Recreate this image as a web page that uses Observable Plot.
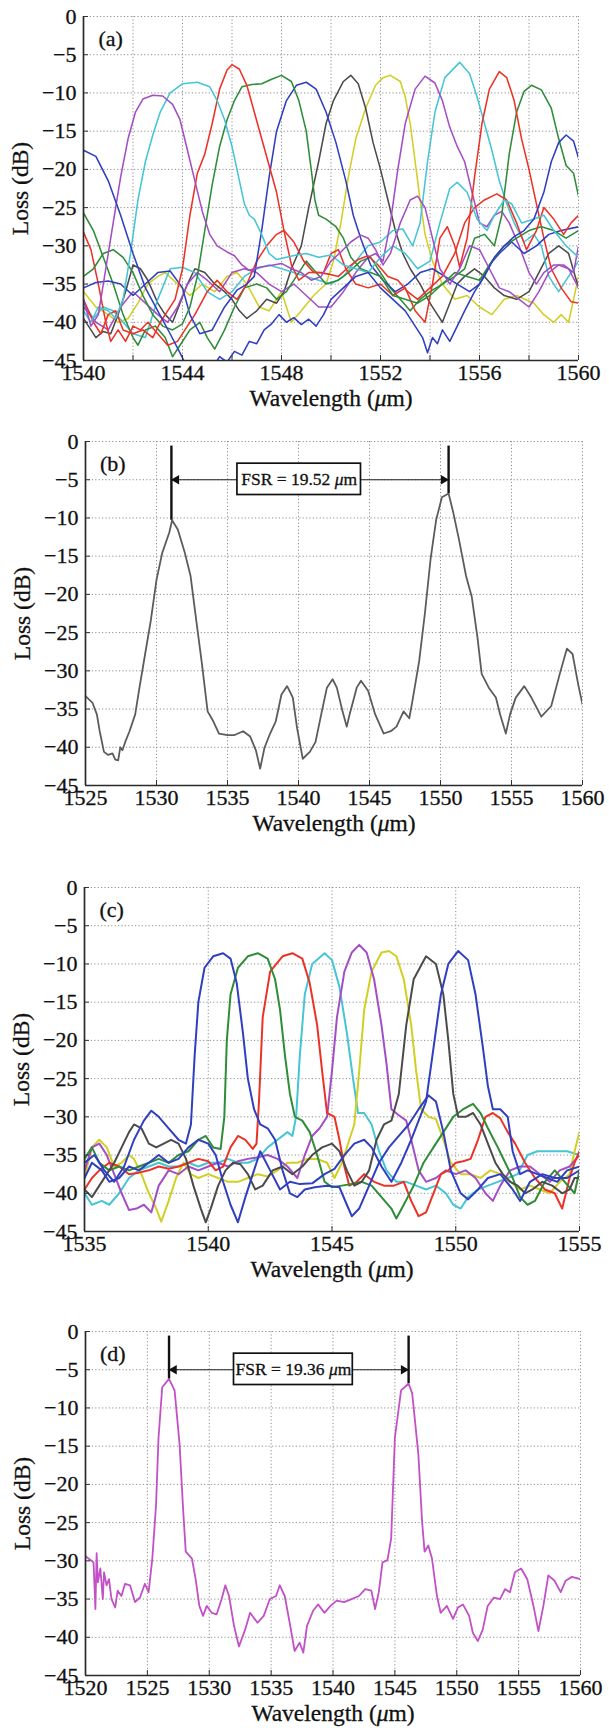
<!DOCTYPE html>
<html>
<head>
<meta charset="utf-8">
<script src="https://cdn.jsdelivr.net/npm/d3@7"></script>
<script src="https://cdn.jsdelivr.net/npm/@observablehq/plot@0.6"></script>
<style>
  html, body { margin: 0; padding: 0; background: #fff; }
  #root svg { display: block; }
  #root svg text { stroke: #111; stroke-width: 0.3px; }
</style>
</head>
<body>
<div id="root"></div>
<script>
// ---------------- Panel (a) ----------------
const a_xTicks = [1540, 1544, 1548, 1552, 1556, 1560];
const a_xGrid = [1542, 1544, 1546, 1548, 1550, 1552, 1554, 1556, 1558, 1560];
const a_blue1 = [[1540,-17.5],[1540.5,-18.3],[1541,-21.5],[1541.5,-26],[1542,-31],[1542.5,-35.5],[1543,-38.5],[1543.5,-41.5],[1543.9,-44],[1544.2,-46],[1545.2,-46],[1545.5,-44.5],[1545.8,-45.2],[1546.1,-43.8],[1546.4,-44.3],[1546.7,-42.5],[1547,-42.8],[1547.3,-41],[1547.6,-40.2],[1547.9,-39],[1548.2,-40],[1548.5,-39.4],[1548.8,-40.3],[1549.1,-39.6],[1549.4,-40.5],[1549.7,-39],[1550,-37],[1550.5,-35.5],[1551,-34],[1551.5,-33.5],[1552,-35.5],[1552.5,-37],[1553,-38.5],[1553.4,-40.5],[1553.7,-42],[1553.9,-44],[1554.1,-42],[1554.3,-42.8],[1554.5,-41],[1554.8,-42.5],[1555.1,-40.5],[1555.4,-38.5],[1555.8,-36],[1556.2,-34],[1556.6,-31.5],[1557,-30],[1557.4,-28.8],[1557.8,-28],[1558.2,-26.5],[1558.6,-23],[1558.9,-19],[1559.2,-16.5],[1559.5,-15.5],[1559.8,-16.3],[1560,-18.5]];
const a_magenta1 = [[1540,-37],[1540.3,-40.5],[1540.6,-39],[1540.9,-33],[1541.2,-27],[1541.5,-21],[1541.8,-16],[1542.1,-12.5],[1542.4,-10.8],[1542.8,-10.3],[1543.2,-10.4],[1543.6,-11.5],[1543.9,-13.5],[1544.2,-17.5],[1544.5,-21.5],[1544.8,-25.5],[1545.1,-28.5],[1545.4,-30],[1545.8,-30.8],[1546.1,-31.3],[1546.4,-32.5],[1546.7,-33.2],[1547.1,-32.8],[1547.5,-32.6],[1548,-32.3],[1548.4,-33],[1548.8,-33.5],[1549.2,-34.5],[1549.6,-34],[1550,-32],[1550.4,-30.8],[1550.8,-29.5],[1551.2,-28.6],[1551.5,-29],[1551.8,-30.5],[1552.1,-32.5],[1552.4,-31],[1552.8,-27],[1553.2,-24],[1553.5,-23.5],[1553.8,-25],[1554.1,-29],[1554.4,-33],[1554.8,-35],[1555.2,-33],[1555.6,-30],[1556,-30.5],[1556.4,-33],[1556.8,-35.5],[1557.2,-36],[1557.6,-37],[1558,-38],[1558.4,-36],[1558.8,-33.5],[1559.2,-32.5],[1559.6,-33],[1560,-35.5]];
const a_cyan1 = [[1540,-38.5],[1540.3,-40],[1540.6,-38],[1541,-38.5],[1541.3,-39.5],[1541.6,-37],[1541.9,-31],[1542.2,-24],[1542.5,-19],[1542.8,-15.5],[1543.1,-12.5],[1543.5,-10],[1544,-8.8],[1544.6,-8.6],[1545.1,-9.2],[1545.4,-11],[1545.7,-13.5],[1546,-17],[1546.3,-21.5],[1546.5,-24.5],[1546.7,-26],[1546.9,-26.5],[1547.2,-28.5],[1547.5,-31],[1547.8,-31.8],[1548.2,-31.5],[1548.6,-31.2],[1549,-31],[1549.5,-31.5],[1550,-31.2],[1550.5,-32.5],[1551,-33],[1551.5,-33.5],[1552,-31.5],[1552.5,-30],[1553,-31],[1553.5,-33],[1554,-32],[1554.4,-27],[1554.8,-22.5],[1555.1,-21.7],[1555.5,-23],[1555.9,-26.5],[1556.3,-28],[1556.6,-26],[1557,-24],[1557.3,-24.5],[1557.7,-27],[1558.2,-26.5],[1558.6,-26],[1559,-28],[1559.5,-30],[1560,-31.5]];
const a_red1 = [[1540,-37],[1540.4,-40],[1540.7,-41.5],[1541,-39],[1541.3,-38.5],[1541.6,-41],[1542,-41.5],[1542.4,-41],[1542.8,-42],[1543.1,-40],[1543.4,-38.5],[1543.7,-37],[1544,-33],[1544.3,-26],[1544.6,-20.5],[1544.9,-18],[1545.2,-14],[1545.5,-9.5],[1545.8,-7],[1546,-6.3],[1546.3,-6.9],[1546.6,-9],[1546.9,-12.5],[1547.2,-16],[1547.5,-19.5],[1547.8,-23],[1548.1,-28],[1548.4,-32.5],[1548.7,-34.5],[1549.1,-33.5],[1549.5,-33.5],[1549.9,-33.7],[1550.3,-34],[1550.7,-32.8],[1551.1,-31.8],[1551.5,-31.3],[1551.9,-32.5],[1552.3,-34],[1552.7,-34.5],[1553.1,-36],[1553.5,-37],[1554,-35.5],[1554.5,-34],[1555,-31],[1555.4,-27],[1555.8,-25],[1556.2,-24],[1556.7,-23.2],[1557.1,-24],[1557.5,-27],[1557.9,-30.5],[1558.3,-28],[1558.6,-25],[1559,-26.5],[1559.4,-28.5],[1559.7,-27],[1560,-26]];
const a_green1 = [[1540,-34],[1540.4,-33],[1540.8,-31],[1541.2,-30.5],[1541.6,-31.5],[1542,-33.5],[1542.4,-36.5],[1542.8,-39],[1543.2,-40.5],[1543.6,-41],[1544,-40.2],[1544.3,-38],[1544.6,-34],[1544.9,-28],[1545.2,-22],[1545.5,-17],[1545.8,-13.5],[1546.1,-11],[1546.4,-9.2],[1546.8,-8.9],[1547.2,-8.8],[1547.6,-8.2],[1548,-7.7],[1548.4,-8.5],[1548.7,-11],[1549,-15],[1549.2,-20],[1549.35,-24],[1549.5,-26],[1549.8,-26.5],[1550.2,-27.5],[1550.5,-29],[1550.8,-31.5],[1551.2,-33],[1551.6,-33.5],[1552,-34],[1552.5,-36.5],[1553,-37],[1553.5,-37.5],[1554,-36.5],[1554.5,-35],[1555,-33.5],[1555.5,-34],[1556,-34.5],[1556.5,-32],[1557,-30],[1557.5,-29],[1558,-28],[1558.5,-27.5],[1559,-28],[1559.5,-29],[1560,-28]];
const a_blue2 = [[1540,-35.5],[1540.5,-34.8],[1541,-34.6],[1541.5,-35],[1542,-36.5],[1542.5,-35],[1543,-33.5],[1543.5,-33.3],[1544,-35.5],[1544.3,-39],[1544.7,-41.5],[1545.2,-41],[1545.7,-38],[1546.2,-35.8],[1546.6,-35],[1546.9,-34],[1547.2,-28],[1547.5,-21],[1547.8,-15],[1548.2,-11],[1548.6,-9],[1549,-8.6],[1549.4,-9.5],[1549.8,-12.5],[1550.2,-16.5],[1550.6,-21.5],[1550.9,-26],[1551.2,-29],[1551.6,-32.5],[1552.1,-34.5],[1552.6,-36],[1553.1,-35],[1553.6,-33.5],[1554.1,-33],[1554.6,-34],[1555.1,-35],[1555.6,-36],[1556,-35],[1556.4,-32.5],[1556.8,-31],[1557.3,-29.5],[1557.8,-31],[1558.3,-30],[1558.8,-28.5],[1559.3,-28],[1560,-27.5]];
const a_gray = [[1540,-39.5],[1540.3,-41],[1540.5,-42],[1540.8,-41.2],[1541.1,-41.5],[1541.4,-39],[1541.7,-36],[1542,-32.5],[1542.3,-33],[1542.6,-34.5],[1543,-37.5],[1543.3,-39],[1543.6,-40],[1543.9,-37.5],[1544.2,-35],[1544.5,-33],[1544.9,-33.5],[1545.3,-35],[1545.7,-36],[1546,-37],[1546.3,-38.5],[1546.6,-39.5],[1547,-38.5],[1547.4,-37],[1547.8,-37.5],[1548.1,-36],[1548.4,-33],[1548.8,-30],[1549.1,-25],[1549.5,-19],[1549.8,-14],[1550.1,-11],[1550.5,-8.5],[1550.8,-7.7],[1551.1,-8.8],[1551.4,-12],[1551.7,-16.5],[1552,-20],[1552.3,-24],[1552.6,-28],[1552.9,-31],[1553.2,-33],[1553.6,-35],[1554,-37.5],[1554.3,-39],[1554.5,-40],[1554.8,-37.5],[1555.1,-35],[1555.4,-34],[1555.8,-33],[1556.2,-34],[1556.6,-35.5],[1557,-36.5],[1557.5,-37],[1558,-36],[1558.4,-33.5],[1558.8,-31],[1559.2,-30],[1559.6,-31],[1560,-35.5]];
const a_yellow = [[1540,-36],[1540.5,-38],[1541,-39],[1541.4,-40],[1541.8,-39.5],[1542.2,-37.5],[1542.6,-35],[1543,-34],[1543.3,-33.5],[1543.8,-35],[1544.3,-36.5],[1544.8,-35],[1545.3,-36],[1545.8,-34],[1546.2,-33.5],[1546.6,-35],[1547.1,-38],[1547.5,-38.5],[1548,-36],[1548.4,-40],[1548.8,-38.5],[1549.3,-36.5],[1549.8,-35],[1550.1,-32],[1550.4,-27],[1550.7,-21],[1551,-16],[1551.4,-12],[1551.8,-9],[1552.1,-8],[1552.4,-7.7],[1552.8,-8.5],[1553,-10.5],[1553.2,-14],[1553.4,-19],[1553.6,-24],[1553.8,-28.5],[1554.1,-32],[1554.5,-35],[1555,-37],[1555.5,-36.5],[1556,-38],[1556.5,-39],[1557,-37],[1557.5,-36.5],[1558.2,-37.5],[1558.6,-39],[1559,-40],[1559.3,-39],[1559.6,-40],[1559.8,-37],[1560,-34]];
const a_magenta2 = [[1540,-38],[1540.5,-40],[1541,-41],[1541.5,-38],[1542,-36],[1542.5,-37.5],[1543,-39],[1543.4,-40],[1543.8,-38],[1544.2,-35],[1544.6,-33.5],[1545,-34.5],[1545.5,-36],[1546,-33.5],[1546.5,-33],[1547,-33.5],[1547.5,-35],[1548,-36],[1548.5,-35],[1549,-36.5],[1549.5,-38],[1550,-38],[1550.5,-36],[1551,-33.5],[1551.5,-31.5],[1551.8,-31],[1552.1,-32],[1552.4,-27],[1552.7,-20],[1553,-14],[1553.4,-9.5],[1553.8,-7.8],[1554.2,-8.7],[1554.5,-11],[1554.8,-14.5],[1555.1,-17],[1555.4,-19],[1555.7,-23],[1556,-27],[1556.3,-27.5],[1556.6,-26],[1556.9,-25.5],[1557.2,-27],[1557.6,-30],[1558,-33.5],[1558.3,-35],[1558.6,-33.5],[1559,-32.5],[1559.4,-32.5],[1559.8,-33.5],[1560,-30]];
const a_cyan2 = [[1540,-37.5],[1540.4,-39.5],[1540.8,-38],[1541.2,-38.5],[1541.6,-40],[1542,-41.5],[1542.5,-42],[1543,-37],[1543.5,-33],[1544,-32.8],[1544.5,-33.5],[1545,-36],[1545.5,-37],[1546,-36],[1546.5,-34],[1547,-33],[1547.5,-32.5],[1548,-33],[1548.5,-33.5],[1549,-34],[1549.5,-34.5],[1550,-35],[1550.5,-34],[1551,-32],[1551.5,-30],[1552,-29.5],[1552.5,-28],[1552.9,-27.8],[1553.3,-30],[1553.6,-27],[1553.9,-19],[1554.2,-12.5],[1554.6,-8],[1555.2,-6],[1555.6,-7.5],[1555.9,-10.5],[1556.2,-14],[1556.5,-17.5],[1556.8,-21.5],[1557.1,-24.5],[1557.4,-27],[1557.8,-29.5],[1558.2,-28.5],[1558.5,-30],[1558.8,-34],[1559.2,-36],[1559.6,-34],[1560,-32]];
const a_red2 = [[1540,-28.2],[1540.3,-30.5],[1540.6,-35],[1540.9,-40],[1541.1,-42.5],[1541.4,-41],[1541.7,-42.5],[1542,-40.5],[1542.3,-41],[1542.6,-40],[1543,-41.5],[1543.4,-43],[1543.8,-42.5],[1544.1,-41],[1544.5,-39],[1545,-36],[1545.4,-34.5],[1545.8,-36],[1546.2,-37],[1546.6,-35],[1547,-32],[1547.4,-30],[1547.8,-28.5],[1548.1,-28],[1548.5,-29.5],[1548.9,-32],[1549.3,-33.5],[1549.7,-33.5],[1550,-31],[1550.3,-30.5],[1550.6,-33],[1551,-35],[1551.5,-35.5],[1552,-35],[1552.5,-36.5],[1553,-35.5],[1553.4,-38.5],[1553.8,-40],[1554.1,-35],[1554.4,-29],[1554.7,-27.5],[1555,-30],[1555.2,-32.8],[1555.5,-29],[1555.8,-21],[1556.1,-14],[1556.4,-9.5],[1556.8,-7.2],[1557.1,-8],[1557.4,-11],[1557.7,-16],[1558,-20],[1558.3,-24.5],[1558.6,-29],[1558.9,-33],[1559.3,-35.5],[1559.7,-37.3],[1560,-37.5]];
const a_green2 = [[1540,-25.7],[1540.4,-28],[1540.8,-31.5],[1541.2,-35],[1541.6,-39],[1542,-42],[1542.2,-43],[1542.5,-41],[1542.9,-40.5],[1543.3,-42],[1543.6,-44.5],[1543.9,-43],[1544.3,-41],[1544.7,-40],[1545,-42],[1545.3,-43.5],[1545.7,-41],[1546.1,-38],[1546.5,-35.5],[1547,-35],[1547.4,-35.5],[1547.8,-37],[1548.2,-36],[1548.6,-34],[1549,-32],[1549.4,-33.5],[1549.8,-35],[1550.3,-34.5],[1550.7,-33.5],[1551.2,-32],[1551.6,-31.5],[1552,-33.5],[1552.4,-35.5],[1552.8,-37],[1553.2,-38.5],[1553.6,-37],[1554,-36],[1554.5,-35],[1555,-34],[1555.4,-33],[1555.8,-29],[1556.2,-28.5],[1556.6,-30],[1556.9,-26],[1557.2,-18],[1557.5,-12.5],[1557.8,-9.8],[1558.1,-9],[1558.5,-9.6],[1558.9,-12],[1559.2,-16],[1559.5,-19.5],[1559.8,-20.5],[1560,-23.5]];

// ---------------- Panel (b) ----------------
const b_xTicks = [1525, 1530, 1535, 1540, 1545, 1550, 1555, 1560];
const b_trace = [[1525,-33.3],[1525.5,-34.2],[1525.8,-35.7],[1526,-37.9],[1526.3,-40.6],[1526.6,-41],[1526.9,-40.8],[1527.1,-41.6],[1527.3,-41.7],[1527.45,-40],[1527.6,-40.4],[1527.8,-39.3],[1528.1,-37.9],[1528.5,-35.7],[1528.8,-32.2],[1529.2,-27.8],[1529.6,-23.4],[1530,-18.1],[1530.4,-14.6],[1530.9,-11.9],[1531.1,-10.3],[1531.5,-11.5],[1532,-14.6],[1532.4,-17.6],[1532.8,-23.4],[1533.2,-29.1],[1533.6,-35.3],[1534,-36.6],[1534.4,-38.2],[1535,-38.4],[1535.5,-38.4],[1536.1,-37.9],[1536.6,-38.6],[1537,-40.4],[1537.3,-42.8],[1537.6,-40.1],[1538,-38.2],[1538.4,-36.6],[1538.8,-33.1],[1539.2,-32],[1539.6,-33.5],[1539.9,-37.5],[1540.3,-41.5],[1540.8,-40.6],[1541.2,-39.3],[1541.6,-35.7],[1542,-32.2],[1542.4,-31.1],[1542.7,-32.2],[1543.1,-35.3],[1543.4,-37.3],[1543.6,-35.7],[1544.1,-32.2],[1544.4,-31.3],[1544.9,-32.6],[1545.4,-35.7],[1546,-38.2],[1546.5,-37.9],[1546.9,-37.3],[1547.4,-35.3],[1547.8,-36.2],[1548,-34.2],[1548.5,-28.7],[1548.9,-22.5],[1549.3,-15.4],[1549.7,-10.2],[1550.1,-7.3],[1550.57,-6.8],[1550.9,-9.3],[1551.3,-12.8],[1551.8,-17.6],[1552.2,-20.3],[1552.6,-25.6],[1552.9,-30.4],[1553.4,-32.2],[1553.9,-33.5],[1554.2,-35.7],[1554.6,-38.2],[1554.9,-35.7],[1555.3,-33.5],[1555.9,-32],[1556.4,-33.5],[1557.1,-36],[1557.8,-34.6],[1558.4,-30.4],[1558.9,-27.1],[1559.3,-27.8],[1559.7,-31.8],[1560,-34.4]];

// ---------------- Panel (c) ----------------
const c_xTicks = [1535, 1540, 1545, 1550, 1555];
const c_blue1 = [[1535,-36],[1535.4,-35],[1535.8,-37],[1536.2,-38.5],[1536.6,-36.5],[1537,-33],[1537.4,-30.5],[1537.7,-29.2],[1538,-30],[1538.4,-31.5],[1538.8,-33],[1539.1,-33.5],[1539.3,-31],[1539.45,-22],[1539.6,-15],[1539.85,-10.5],[1540.2,-9],[1540.6,-8.6],[1540.9,-9.3],[1541.15,-12.5],[1541.4,-19],[1541.6,-25],[1541.85,-29],[1542.1,-31],[1542.4,-31.5],[1542.7,-33],[1543,-37],[1543.3,-40],[1543.6,-40.5],[1543.9,-39.5],[1544.3,-39.2],[1544.8,-39],[1545.3,-39.2],[1545.6,-41.5],[1545.8,-43],[1546.1,-42],[1546.5,-39],[1546.9,-36],[1547.3,-34],[1547.7,-32.5],[1548.1,-31],[1548.5,-29],[1548.9,-27.2],[1549.2,-28],[1549.5,-32],[1549.8,-37],[1550.2,-40],[1550.5,-40.8],[1550.9,-39.5],[1551.3,-38],[1551.8,-37.5],[1552.3,-39.5],[1552.6,-41],[1553,-38.5],[1553.5,-37.5],[1554,-38],[1554.5,-38],[1555,-37]];
const c_green = [[1535,-35.5],[1535.3,-34],[1535.6,-36],[1536,-37],[1536.4,-36.5],[1536.8,-37],[1537.2,-36.5],[1537.6,-36],[1538,-35.5],[1538.4,-36],[1538.8,-35],[1539.2,-34.5],[1539.6,-33],[1539.9,-32.5],[1540.2,-34],[1540.5,-34.2],[1540.65,-30],[1540.75,-20],[1540.9,-14],[1541.2,-10.5],[1541.6,-9],[1542,-8.6],[1542.4,-9.3],[1542.7,-12],[1542.9,-16],[1543.1,-22],[1543.3,-27],[1543.5,-30],[1543.8,-30.5],[1544.1,-32],[1544.4,-35],[1544.7,-38.5],[1545,-39.2],[1545.4,-39],[1545.8,-38.8],[1546.2,-38.5],[1546.6,-39],[1547,-40.5],[1547.4,-42],[1547.6,-43.3],[1547.9,-41.5],[1548.3,-39],[1548.7,-36],[1549.1,-34],[1549.5,-32],[1549.9,-30],[1550.3,-29],[1550.7,-28.3],[1551,-29.5],[1551.3,-31.5],[1551.7,-34],[1552,-36],[1552.3,-38],[1552.6,-40.5],[1552.9,-41.5],[1553.2,-41],[1553.6,-38.5],[1554,-37],[1554.4,-38.5],[1554.8,-40],[1555,-37]];
const c_red = [[1535,-39.5],[1535.3,-38],[1535.6,-37],[1536,-36],[1536.4,-36.5],[1536.8,-37.5],[1537.2,-37.3],[1537.6,-37],[1538,-36.5],[1538.4,-36.8],[1538.8,-36.5],[1539.2,-36],[1539.6,-35.5],[1540,-35.8],[1540.3,-37],[1540.6,-36.5],[1540.9,-34],[1541.2,-32.5],[1541.5,-33],[1541.8,-34.2],[1541.95,-33.5],[1542.05,-28],[1542.2,-17],[1542.5,-11],[1543,-9],[1543.4,-8.6],[1543.8,-9.3],[1544.1,-12.5],[1544.4,-18],[1544.6,-24],[1544.8,-29.5],[1545.1,-30],[1545.3,-33],[1545.5,-36.5],[1545.7,-39],[1546,-38.5],[1546.3,-37.5],[1546.7,-38.5],[1547.1,-39],[1547.5,-39],[1547.9,-38.5],[1548.2,-41],[1548.5,-43],[1548.8,-42.5],[1549.1,-40],[1549.4,-37.5],[1549.7,-37],[1550,-36],[1550.3,-35.8],[1550.6,-35.5],[1550.9,-33],[1551.2,-30],[1551.5,-29.5],[1551.8,-30.2],[1552.1,-32],[1552.4,-33.5],[1552.8,-36],[1553.2,-38],[1553.6,-39.5],[1554,-40],[1554.3,-42],[1554.6,-38],[1554.8,-36],[1555,-34.5]];
const c_cyan = [[1535,-40],[1535.3,-41.5],[1535.7,-41],[1536,-41.5],[1536.4,-40],[1536.8,-38],[1537.2,-37],[1537.6,-36.5],[1538,-36],[1538.4,-36.5],[1538.8,-36.5],[1539.2,-36],[1539.6,-36.5],[1540,-36],[1540.4,-36],[1540.8,-35.5],[1541.2,-36],[1541.6,-36],[1542,-35.5],[1542.4,-34],[1542.8,-33],[1543.2,-32],[1543.4,-32.5],[1543.55,-30],[1543.7,-22],[1543.9,-14],[1544.2,-10],[1544.7,-8.6],[1545,-9.5],[1545.3,-13],[1545.6,-19],[1545.85,-25],[1546.05,-29.5],[1546.3,-29.5],[1546.6,-31],[1546.9,-34.5],[1547.2,-37],[1547.6,-38.5],[1548,-38.5],[1548.4,-39],[1548.8,-39.5],[1549.2,-39],[1549.6,-40],[1549.9,-41.5],[1550.2,-42],[1550.5,-40.5],[1550.9,-39.5],[1551.3,-39],[1551.7,-38.5],[1552.1,-38],[1552.5,-37.5],[1552.9,-35],[1553.3,-34.5],[1553.7,-34.5],[1554.1,-34.5],[1554.5,-34.5],[1555,-35]];
const c_magenta = [[1535,-37],[1535.3,-34],[1535.6,-33.5],[1535.9,-35],[1536.2,-37.5],[1536.5,-40],[1536.8,-42.2],[1537.1,-42],[1537.4,-41.5],[1537.7,-42.5],[1538,-39],[1538.4,-37],[1538.8,-37.5],[1539.2,-36.5],[1539.6,-37],[1540,-36.5],[1540.4,-36],[1540.8,-36.5],[1541.2,-35.8],[1541.6,-35.5],[1542,-35.3],[1542.4,-35],[1542.8,-35.5],[1543.2,-36.5],[1543.6,-38],[1543.9,-35],[1544.2,-32.5],[1544.5,-31.5],[1544.8,-30],[1545,-24],[1545.2,-17],[1545.5,-11],[1545.8,-8.5],[1546.1,-7.5],[1546.4,-8.5],[1546.7,-12],[1547,-18],[1547.2,-23],[1547.4,-29],[1547.7,-29.8],[1548,-30.5],[1548.2,-33],[1548.5,-37],[1548.8,-38.5],[1549.2,-38],[1549.6,-37],[1550,-37.5],[1550.4,-37],[1550.8,-38],[1551.2,-40],[1551.5,-41],[1551.8,-39],[1552.2,-37],[1552.6,-36.5],[1553,-36.5],[1553.4,-37.5],[1553.8,-38.5],[1554.2,-37],[1554.6,-36.5],[1555,-35]];
const c_yellow = [[1535,-38],[1535.3,-34],[1535.6,-33],[1535.9,-34],[1536.2,-36.5],[1536.5,-36],[1536.8,-35],[1537,-35.5],[1537.3,-37.5],[1537.6,-40],[1537.9,-42],[1538.1,-43.7],[1538.4,-41],[1538.7,-38],[1539,-36],[1539.3,-37.5],[1539.6,-38],[1540,-37.5],[1540.4,-38],[1540.8,-38.5],[1541.2,-38.5],[1541.6,-38],[1542,-37.5],[1542.4,-37.8],[1542.8,-37],[1543.2,-36],[1543.6,-36],[1544,-35.5],[1544.4,-35.5],[1544.8,-36],[1545.1,-38],[1545.4,-36],[1545.7,-33],[1545.9,-31],[1546.1,-24],[1546.3,-16],[1546.6,-11],[1547,-8.5],[1547.3,-8.3],[1547.6,-9],[1547.9,-12],[1548.2,-18],[1548.4,-24],[1548.6,-29],[1548.9,-30],[1549.2,-30.3],[1549.5,-33],[1549.8,-36],[1550.2,-37.5],[1550.6,-37.5],[1551,-38],[1551.4,-37],[1551.8,-37.5],[1552.2,-38.5],[1552.6,-39.5],[1553,-39],[1553.4,-39.5],[1553.8,-40],[1554.2,-38.5],[1554.6,-37.5],[1554.8,-34.5],[1555,-32]];
const c_gray = [[1535,-39.5],[1535.3,-40.5],[1535.6,-39],[1535.9,-37.5],[1536.2,-36],[1536.5,-34],[1536.8,-32],[1537,-31],[1537.3,-31.5],[1537.6,-33.5],[1537.9,-34],[1538.2,-33.5],[1538.5,-33],[1538.8,-33.5],[1539.1,-35.5],[1539.4,-39],[1539.7,-42],[1539.9,-43.8],[1540.1,-42],[1540.4,-39],[1540.7,-37],[1541,-36],[1541.3,-36.2],[1541.6,-37.5],[1541.9,-39.5],[1542.2,-39],[1542.6,-37],[1543,-36.5],[1543.4,-37.5],[1543.8,-36.5],[1544.2,-35],[1544.6,-34],[1545,-33.5],[1545.3,-34.5],[1545.6,-37],[1545.9,-39],[1546.2,-38.5],[1546.5,-37],[1546.8,-33],[1547.1,-31],[1547.4,-30.5],[1547.7,-27],[1548,-18],[1548.3,-12],[1548.8,-9],[1549.2,-10],[1549.5,-14],[1549.7,-20],[1549.9,-27],[1550.1,-30],[1550.4,-30],[1550.7,-29.5],[1551,-31],[1551.3,-33.5],[1551.6,-36],[1551.9,-37.5],[1552.2,-38.5],[1552.5,-39],[1552.8,-40],[1553.1,-39.5],[1553.5,-38.5],[1553.9,-39],[1554.3,-40],[1554.6,-39.5],[1554.8,-38],[1555,-38]];
const c_blue2 = [[1535,-38],[1535.3,-36],[1535.7,-37],[1536,-38.5],[1536.4,-38],[1536.8,-36.5],[1537.2,-37],[1537.6,-36],[1538,-35],[1538.4,-36],[1538.8,-35.5],[1539.2,-34],[1539.6,-33],[1540,-33.5],[1540.3,-35],[1540.6,-38.5],[1540.9,-41.5],[1541.2,-43.8],[1541.5,-40.5],[1541.8,-37.5],[1542.1,-34.5],[1542.5,-37],[1542.9,-39.5],[1543.3,-38.5],[1543.7,-38.8],[1544.2,-38.7],[1544.7,-37.5],[1545.1,-36.8],[1545.5,-35],[1545.9,-33.5],[1546.3,-33],[1546.6,-34],[1547,-36.5],[1547.4,-38.5],[1547.8,-36],[1548.2,-33],[1548.5,-30.5],[1548.8,-28],[1549.1,-21],[1549.4,-14],[1549.7,-10],[1550.1,-8.3],[1550.5,-9.5],[1550.8,-14],[1551.1,-21],[1551.3,-26],[1551.5,-29],[1551.8,-29],[1552.1,-30],[1552.3,-34.5],[1552.6,-37.5],[1552.9,-37],[1553.3,-37.5],[1553.7,-38],[1554.1,-38.5],[1554.5,-37],[1555,-36.5]];

// ---------------- Panel (d) ----------------
const d_xTicks = [1520, 1525, 1530, 1535, 1540, 1545, 1550, 1555, 1560];
const d_trace = [[1520,-29.4],[1520.4,-29.9],[1520.65,-30.2],[1520.8,-36.3],[1520.9,-29],[1521,-32.8],[1521.2,-31],[1521.4,-35],[1521.5,-31.5],[1521.7,-33.2],[1521.9,-32.4],[1522.1,-35],[1522.4,-36.1],[1522.6,-33.9],[1522.9,-34.6],[1523.2,-33],[1523.6,-33.2],[1524,-35.4],[1524.4,-34.8],[1524.8,-33],[1525.1,-34.1],[1525.4,-29.7],[1525.7,-22.7],[1525.9,-13.9],[1526.2,-7.3],[1526.75,-6.2],[1527.2,-7.7],[1527.6,-14.7],[1527.9,-23.6],[1528.1,-28.8],[1528.6,-29.7],[1528.9,-32.4],[1529.2,-35.9],[1529.5,-37.2],[1529.8,-35.9],[1530.2,-36.8],[1530.6,-37],[1531,-35],[1531.3,-33.2],[1531.6,-34.6],[1532,-38.5],[1532.4,-41.2],[1532.9,-39],[1533.3,-36.8],[1533.9,-38.1],[1534.4,-37.2],[1534.9,-35],[1535.4,-34.6],[1535.7,-33.2],[1536.1,-34.6],[1536.5,-38.1],[1536.9,-41.8],[1537.3,-40.7],[1537.6,-42],[1537.9,-38.5],[1538.4,-36.5],[1538.8,-35.7],[1539.3,-36.8],[1539.8,-35.9],[1540.3,-35.2],[1540.9,-35.4],[1541.5,-35],[1542.1,-34.6],[1542.6,-33.7],[1543.1,-33.9],[1543.4,-36.3],[1543.7,-34.1],[1544,-30.2],[1544.4,-29.9],[1544.7,-27.1],[1545,-13.9],[1545.5,-7.7],[1546.11,-6.8],[1546.4,-8.1],[1546.9,-16.1],[1547.2,-24.9],[1547.4,-28.8],[1547.7,-28],[1548,-29.7],[1548.4,-34.6],[1548.7,-36.8],[1549.2,-35.9],[1549.7,-37.6],[1550.1,-36.1],[1550.5,-35.7],[1551,-37.2],[1551.3,-39.4],[1551.7,-40.5],[1552.1,-39],[1552.5,-35.9],[1553,-34.8],[1553.5,-35],[1553.9,-33.7],[1554.3,-34.1],[1554.7,-31.5],[1555.2,-31],[1555.7,-32.4],[1556.2,-35.9],[1556.6,-39.2],[1557,-35.9],[1557.4,-31.9],[1557.9,-32.6],[1558.4,-34.1],[1558.8,-32.6],[1559.3,-32.1],[1560,-32.4]];

// ---------------- shared ----------------
const yTicks = [-45, -40, -35, -30, -25, -20, -15, -10, -5, 0];
const yGrid = [-40, -35, -30, -25, -20, -15, -10, -5, 0];
const COL = {
  blue: "#2f3fc0", green: "#2f8c38", red: "#ec3227", cyan: "#45c5d5",
  magenta: "#a44ec6", yellow: "#d2cf24", gray: "#4b4b4b", pink: "#c250c6", trace: "#5c5c5c"
};
const W = 609, MT = 16, PH = 344;
const FONT = "'Liberation Serif', 'Times New Roman', serif";
const fmtY = d => d < 0 ? "\u2212" + (-d) : String(d);

function italicMu(svg) {
  const ns = "http://www.w3.org/2000/svg";
  svg.querySelectorAll("text, tspan").forEach(t => {
    if (t.children.length === 0 && t.textContent.includes("\u03bc")) {
      const parts = t.textContent.split("\u03bc");
      t.textContent = "";
      parts.forEach((p, i) => {
        if (i > 0) {
          const ts = document.createElementNS(ns, "tspan");
          ts.setAttribute("font-style", "italic");
          ts.textContent = "\u03bc";
          t.appendChild(ts);
        }
        if (p) t.appendChild(document.createTextNode(p));
      });
    }
  });
}

function panel(cfg) {
  const [x0, x1] = cfg.domain;
  const H = cfg.h;
  const plotW = W - cfg.mL - cfg.mR;
  const tx = (x1 - x0) * 5 / plotW, ty = 45 * 5 / PH;
  const gridStyle = {stroke: "#8f8f8f", strokeWidth: 1, strokeDasharray: "1.2,2.2"};
  const marks = [
    Plot.ruleY(yGrid, gridStyle),
    Plot.ruleX(cfg.grid, gridStyle),
    ...cfg.curves.map(c => Plot.line(c.data, {x: d => d[0], y: d => d[1], stroke: c.color, strokeWidth: c.w, clip: true})),
    Plot.ruleX(cfg.grid, {y1: -45, y2: -45 + ty, stroke: "#333", strokeWidth: 1}),
    Plot.ruleY(yGrid, {x1: x0, x2: x0 + tx, stroke: "#333", strokeWidth: 1}),
    Plot.ruleY([-45], {stroke: "#2a2a2a", strokeWidth: 1.7}),
    Plot.ruleX([x0], {stroke: "#2a2a2a", strokeWidth: 1.7}),
    Plot.axisX({ticks: cfg.ticks, tickFormat: d => String(d), tickSize: 0, tickPadding: 4, fontSize: 22,
      label: "Wavelength (\u03bcm)", labelAnchor: "center", labelArrow: "none", labelOffset: 45}),
    Plot.axisY({ticks: yTicks, tickFormat: fmtY, tickSize: 0, tickPadding: 7, fontSize: 22,
      label: "Loss (dB)", labelAnchor: "center", labelArrow: "none", labelOffset: 72}),
    Plot.text([cfg.tag], {x: x0 + (x1 - x0) * 0.055, y: -3, text: d => d, fontSize: 22, fill: "#111"})
  ];
  if (cfg.fsr) {
    const f = cfg.fsr;
    marks.push(
      Plot.ruleX([{x: f.l, y2: f.lp}, {x: f.r, y2: f.rp}], {x: "x", y1: () => -0.6, y2: "y2", stroke: "#111", strokeWidth: 2.4}),
      Plot.ruleY([{a: f.l, b: f.bx1}, {a: f.bx2, b: f.r}], {y: () => -5, x1: "a", x2: "b", stroke: "#222", strokeWidth: 1.1}),
      Plot.dot([{x: f.l}], {x: "x", y: () => -5, symbol: "triangle", r: 3.5, fill: "#111", stroke: "none", rotate: -90, dx: 5}),
      Plot.dot([{x: f.r}], {x: "x", y: () => -5, symbol: "triangle", r: 3.5, fill: "#111", stroke: "none", rotate: 90, dx: -5}),
      Plot.rect([{x1: f.bx1, x2: f.bx2}], {x1: "x1", x2: "x2", y1: () => -2.9, y2: () => -7.0, fill: "white", stroke: "#111", strokeWidth: 1.7}),
      Plot.text([f.text], {x: () => (f.bx1 + f.bx2) / 2, y: () => -4.95, text: d => d, fontSize: 17.5, fill: "#111"})
    );
  }
  const svg = Plot.plot({
    width: W, height: H,
    marginLeft: cfg.mL, marginRight: cfg.mR, marginTop: MT, marginBottom: H - MT - PH,
    x: {domain: cfg.domain},
    y: {domain: [-45, 0]},
    style: {fontFamily: FONT, fontSize: "22px", color: "#111", background: "white", overflow: "visible"},
    marks
  });
  svg.querySelectorAll("g[aria-label='x-axis label'] text, g[aria-label='y-axis label'] text").forEach(t => t.setAttribute("font-size", "23.5"));
  italicMu(svg);
  return svg;
}

const root = document.getElementById("root");
const wa = 1.55;
root.appendChild(panel({
  tag: "(a)", h: 425, domain: [1540, 1560], ticks: a_xTicks, grid: a_xGrid, mL: 83, mR: 31,
  curves: [
    {data: a_yellow, color: COL.yellow, w: wa}, {data: a_gray, color: COL.gray, w: wa},
    {data: a_cyan2, color: COL.cyan, w: wa}, {data: a_magenta2, color: COL.magenta, w: wa},
    {data: a_green2, color: COL.green, w: wa}, {data: a_red2, color: COL.red, w: wa},
    {data: a_blue2, color: COL.blue, w: wa}, {data: a_green1, color: COL.green, w: wa},
    {data: a_red1, color: COL.red, w: wa}, {data: a_cyan1, color: COL.cyan, w: wa},
    {data: a_magenta1, color: COL.magenta, w: wa}, {data: a_blue1, color: COL.blue, w: wa}
  ]
}));
root.appendChild(panel({
  tag: "(b)", h: 446, domain: [1525, 1560], ticks: b_xTicks, grid: b_xTicks.slice(1), mL: 85, mR: 27,
  curves: [{data: b_trace, color: COL.trace, w: 1.8}],
  fsr: {l: 1531.05, lp: -10.3, r: 1550.57, rp: -6.8, bx1: 1535.7, bx2: 1544.4, text: "FSR = 19.52 \u03bcm"}
}));
const wc = 2;
root.appendChild(panel({
  tag: "(c)", h: 444, domain: [1535, 1555], ticks: c_xTicks, grid: c_xTicks.slice(1), mL: 84, mR: 30,
  curves: [
    {data: c_cyan, color: COL.cyan, w: wc}, {data: c_yellow, color: COL.yellow, w: wc},
    {data: c_magenta, color: COL.magenta, w: wc}, {data: c_red, color: COL.red, w: wc},
    {data: c_green, color: COL.green, w: wc}, {data: c_gray, color: COL.gray, w: wc},
    {data: c_blue2, color: COL.blue, w: wc}, {data: c_blue1, color: COL.blue, w: wc}
  ]
}));
root.appendChild(panel({
  tag: "(d)", h: 413, domain: [1520, 1560], ticks: d_xTicks, grid: d_xTicks.slice(1), mL: 85, mR: 29,
  curves: [{data: d_trace, color: COL.pink, w: 1.8}],
  fsr: {l: 1526.75, lp: -6.2, r: 1546.11, rp: -6.8, bx1: 1532.0, bx2: 1541.6, text: "FSR = 19.36 \u03bcm"}
}));
</script>
</body>
</html>
